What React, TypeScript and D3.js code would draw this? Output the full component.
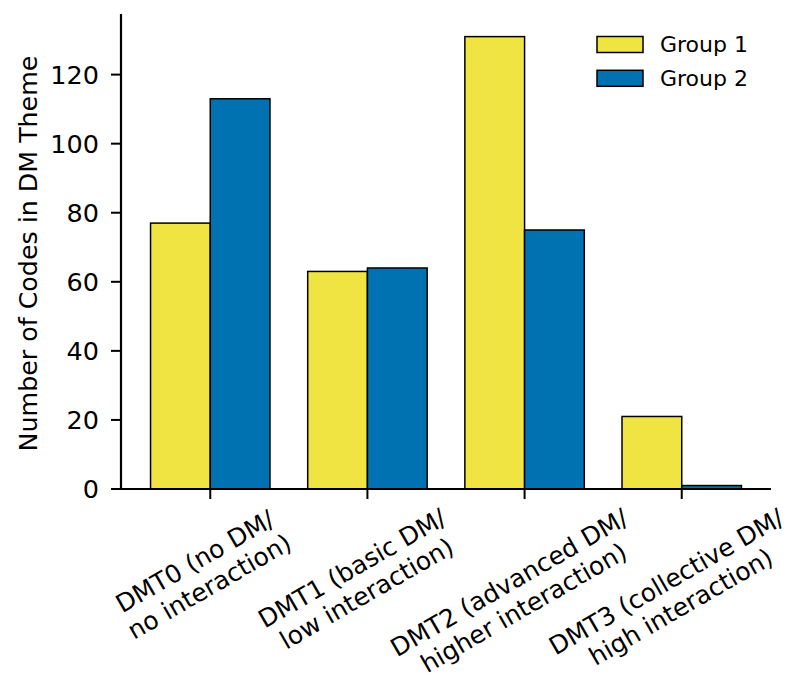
import React, { useEffect } from 'react';
import * as d3 from 'd3';

const categories = [
  ['DMT0 (no DM/', 'no interaction)'],
  ['DMT1 (basic DM/', 'low interaction)'],
  ['DMT2 (advanced DM/', 'higher interaction)'],
  ['DMT3 (collective DM/', 'high interaction)'],
];
const groupNames = ['Group 1', 'Group 2'];
const group1 = [77, 63, 131, 21];
const group2 = [113, 64, 75, 1];
const yTicks = [0, 20, 40, 60, 80, 100, 120];
const colors = ['#F0E442', '#0072B2'];

const W = 793;
const H = 675;
const FONT = 'DejaVu Sans, sans-serif';

// text width helper, used to place the rotated tick labels like matplotlib does
const canvas = typeof document !== 'undefined' ? document.createElement('canvas') : null;
function textWidth(s: string, size: number) {
  if (!canvas) return s.length * size * 0.6;
  const ctx = canvas.getContext('2d');
  ctx.font = `${size}px "DejaVu Sans"`;
  return ctx.measureText(s).width;
}

export default function App() {
  useEffect(() => {
    document.body.style.margin = '0';
  }, []);

  const left = 121;
  const right = 771;
  const top = 14;
  const bottom = 489;

  const keys = categories.map((c) => c.join(' '));
  const series = [group1, group2];

  const x = d3
    .scaleBand()
    .domain(keys)
    .range([left, right])
    .paddingInner(0.24)
    .paddingOuter(0.188);

  const xSub = d3.scaleBand().domain(groupNames).range([0, x.bandwidth()]);

  const yMax = d3.max([...group1, ...group2]) * 1.05;
  const y = d3.scaleLinear().domain([0, yMax]).range([bottom, top]);

  const tickLen = 10;
  const labelSize = 25;
  const lineH = 29;
  const rot = (30 * Math.PI) / 180;

  return (
    <svg width={W} height={H} style={{ display: 'block', background: '#fff' }} fontFamily={FONT}>
      {/* bars */}
      {keys.map((k, i) => (
        <g key={k}>
          {series.map((s, j) => (
            <rect
              key={j}
              x={x(k) + xSub(groupNames[j])}
              y={y(s[i])}
              width={xSub.bandwidth()}
              height={y(0) - y(s[i])}
              fill={colors[j]}
              stroke="#000"
              strokeWidth={1.5}
            />
          ))}
        </g>
      ))}

      {/* y axis */}
      <line x1={left} x2={left} y1={top} y2={bottom + 1} stroke="#000" strokeWidth={2.2} />
      {yTicks.map((t) => (
        <g key={t} transform={`translate(0,${y(t)})`}>
          <line x1={left - tickLen} x2={left} stroke="#000" strokeWidth={2} />
          <text x={left - tickLen - 12} dy="0.35em" textAnchor="end" fontSize={25.5} fill="#000">
            {t}
          </text>
        </g>
      ))}
      <text
        transform={`translate(37,${(top + bottom) / 2 + 2}) rotate(-90)`}
        textAnchor="middle"
        fontSize={25.3}
        fill="#000"
      >
        Number of Codes in DM Theme
      </text>

      {/* x axis */}
      <line x1={left - 1} x2={right} y1={bottom} y2={bottom} stroke="#000" strokeWidth={2.2} />
      {keys.map((k, i) => {
        const cx = x(k) + x.bandwidth() / 2;
        const wMax = d3.max(categories[i], (l) => textWidth(l, labelSize));
        const blockH = lineH * categories[i].length;
        // rotated bounding box hangs below the tick, its centre on the tick
        const cy = bottom + 14 + (wMax * Math.sin(rot) + blockH * Math.cos(rot)) / 2;
        return (
          <g key={k}>
            <line x1={cx} x2={cx} y1={bottom} y2={bottom + tickLen} stroke="#000" strokeWidth={2} />
            <g transform={`translate(${cx - 8},${cy}) rotate(-30)`}>
              {categories[i].map((line, li) => (
                <text
                  key={li}
                  y={(li - 0.5) * lineH}
                  dominantBaseline="central"
                  textAnchor="middle"
                  fontSize={labelSize}
                  fill="#000"
                >
                  {line}
                </text>
              ))}
            </g>
          </g>
        );
      })}

      {/* legend */}
      {groupNames.map((g, j) => (
        <g key={g} transform={`translate(597,${44.5 + j * 33.8})`}>
          <rect x={0} y={-8} width={46} height={16} fill={colors[j]} stroke="#000" strokeWidth={1.5} />
          <text x={63} dy="0.36em" fontSize={22} fill="#000">
            {g}
          </text>
        </g>
      ))}
    </svg>
  );
}
